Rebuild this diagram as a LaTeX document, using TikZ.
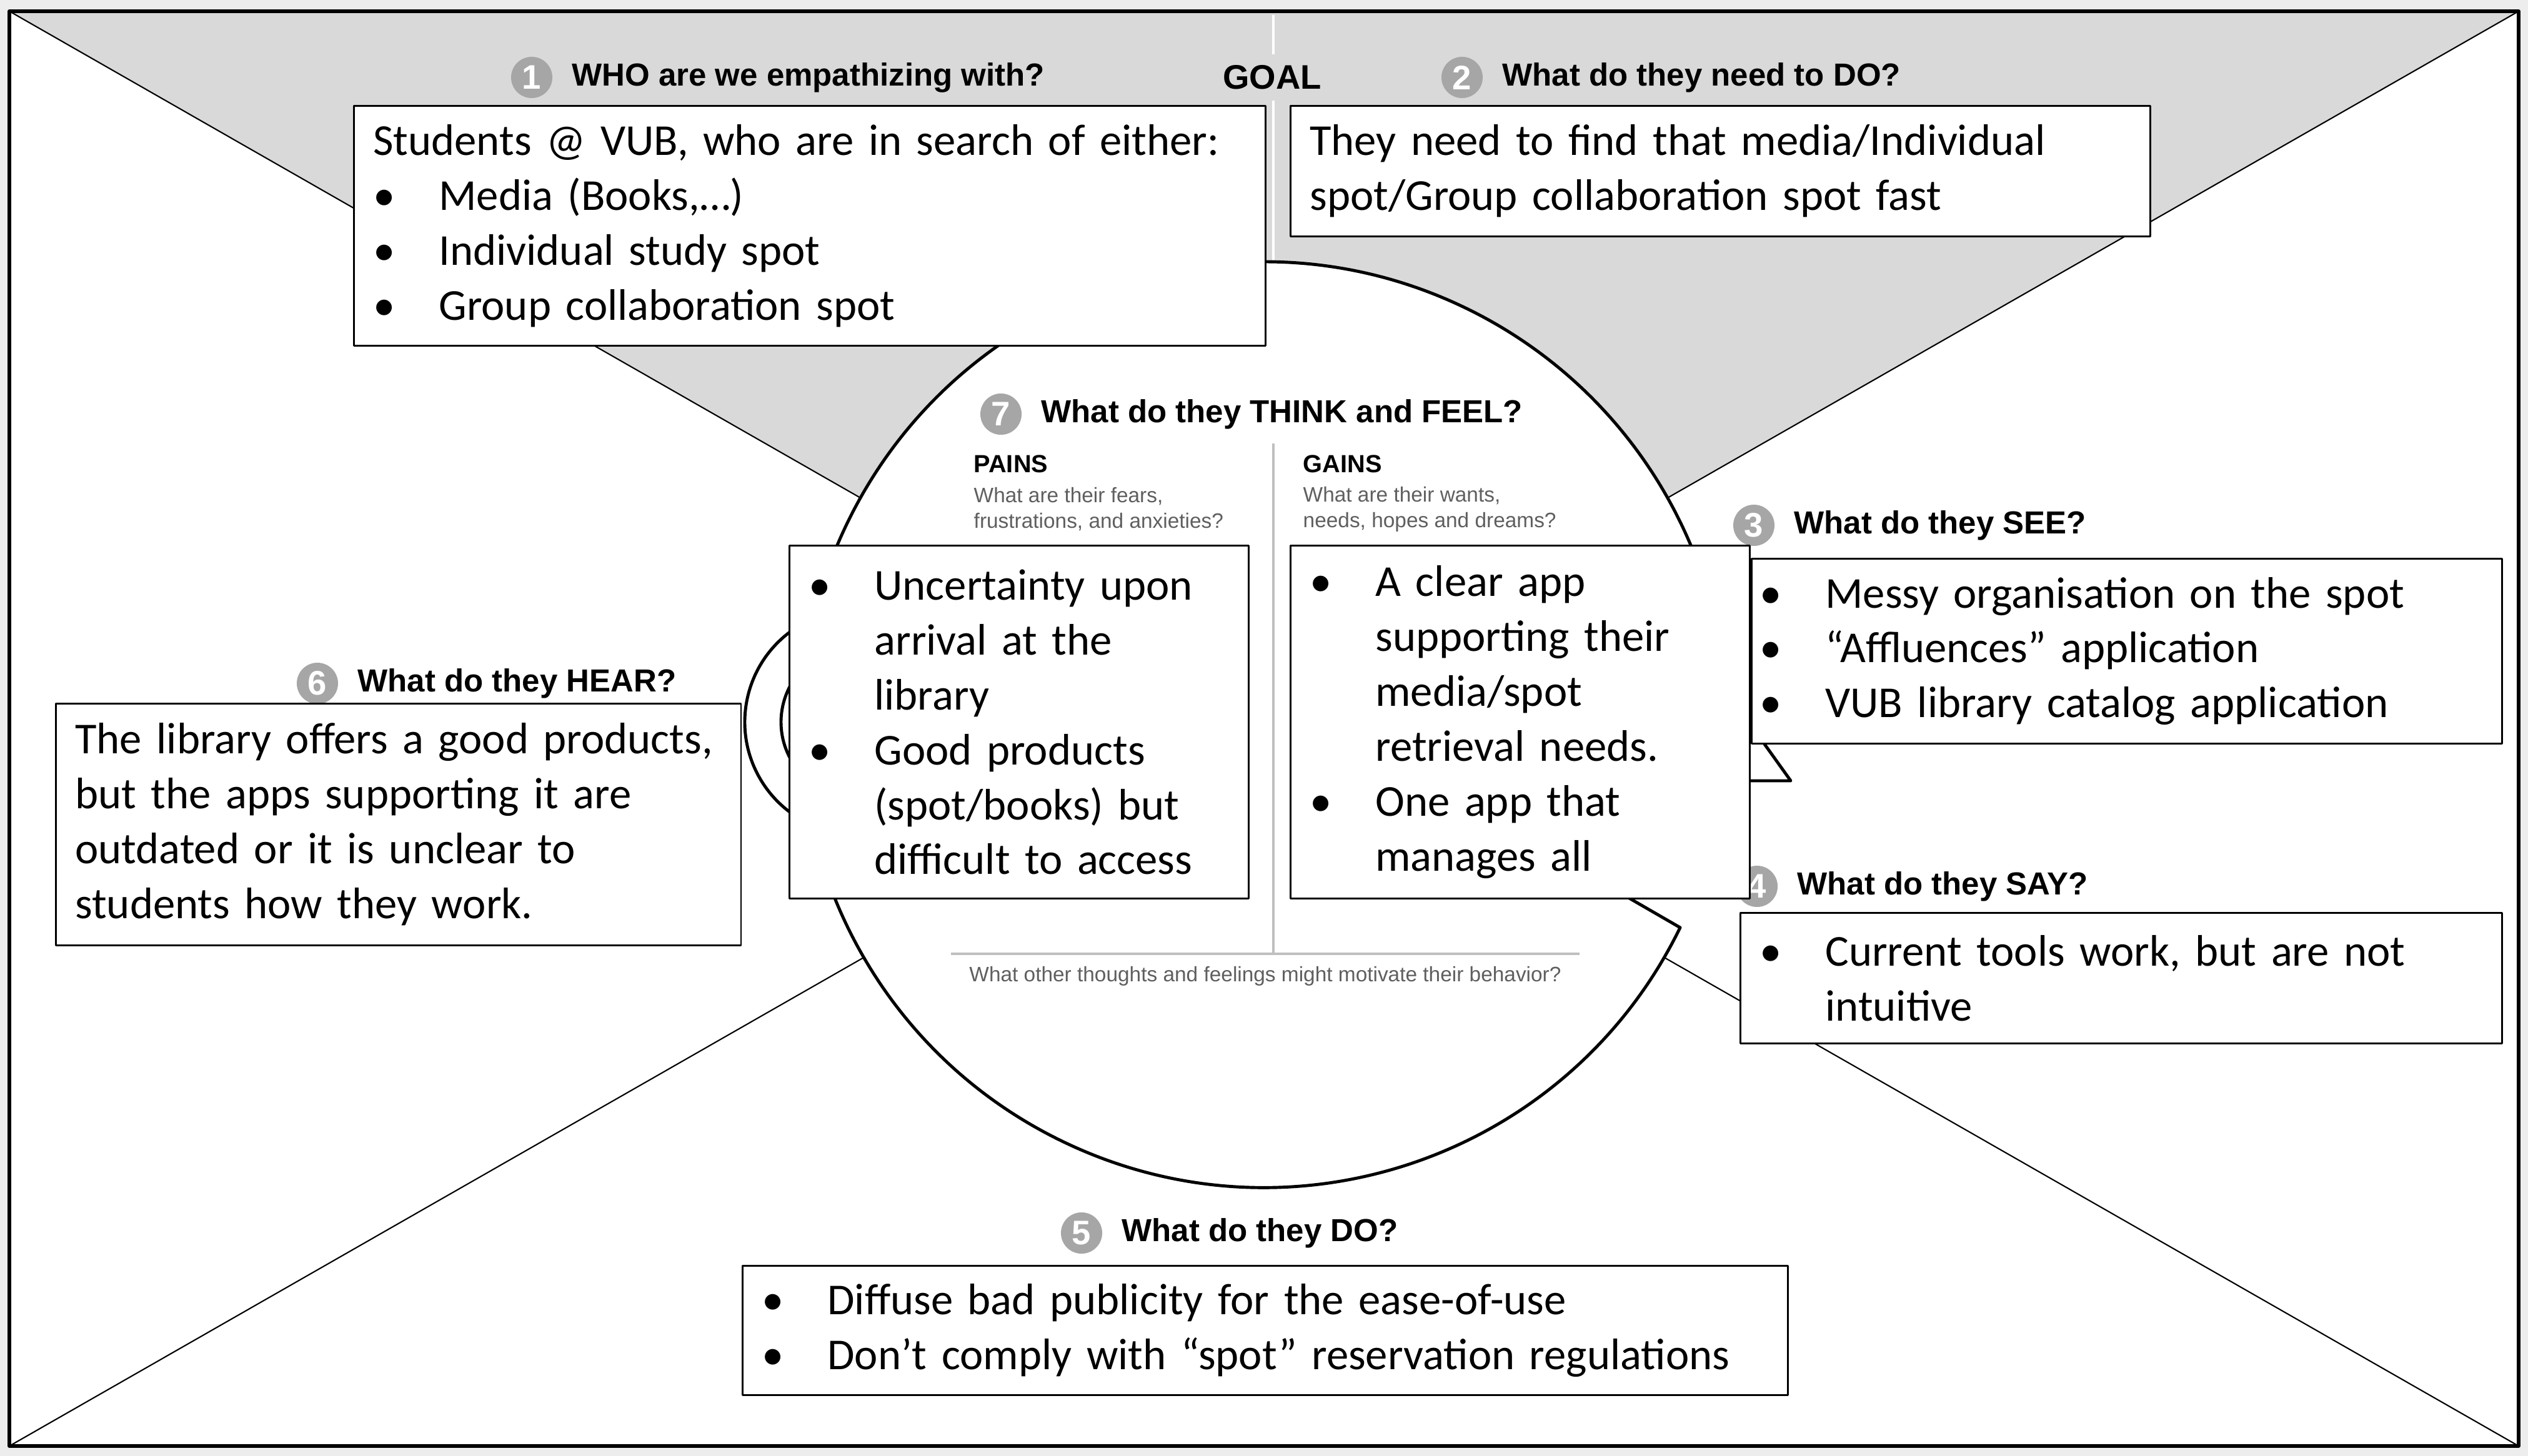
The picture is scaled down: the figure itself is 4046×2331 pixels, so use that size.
\documentclass[tikz,border=0pt]{standalone}
\usepackage{fontspec}
\setmainfont{Carlito}
\newfontfamily\headfont{Liberation Sans}
\usetikzlibrary{positioning}

\definecolor{goalgray}{HTML}{D9D9D9}
\definecolor{numgray}{HTML}{A6A6A6}
\definecolor{divgray}{HTML}{BFBFBF}
\definecolor{subgray}{HTML}{5F5F5F}
\definecolor{outergray}{HTML}{EDEDED}

% bullet column of the answer boxes
\newcommand{\bul}{\makebox[1.05cm][l]{\textbullet}}
\newcommand{\cont}{\hspace*{1.05cm}}
\hyphenpenalty=10000
\exhyphenpenalty=10000

\begin{document}
\begin{tikzpicture}[x=0.01cm, y=-0.01cm, line join=round]
  % styles
  \tikzset{
    canvasframe/.style={line width=1.5pt},
    guide/.style={line width=0.6pt},
    headline/.style={line width=1.4pt},
    divider/.style={divgray, line width=0.9pt},
    numdot/.style={circle, fill=numgray, text=white, minimum size=0.66cm,
      inner sep=0pt, font=\headfont\bfseries\fontsize{15.5}{15.5}\selectfont},
    quest/.style={inner sep=0pt, font=\headfont\bfseries\fontsize{14.5}{17}\selectfont},
    subq/.style={inner sep=0pt, align=left, text=subgray,
      font=\headfont\fontsize{9.5}{11.6}\selectfont},
    answer/.style={draw, line width=0.8pt, fill=white, anchor=north west,
      align=left, inner xsep=0.31cm, inner ysep=0pt, text width=#1,
      font=\fontsize{20.1}{25}\selectfont}
  }

  % ----- head parameters (pixels of the canvas) -----
  \def\hx{2023}
  \def\hy{1160}
  \def\hr{741}

  \useasboundingbox (0,0) rectangle (4046,2331);

  % ----- canvas -----
  \fill[outergray] (0,0) rectangle (4046,2331);
  \fill[white] (15,18) rectangle (4031,2315);
  \fill[goalgray] (15,18) -- (4031,18) -- (2023,1166) -- cycle;
  \draw[guide] (15,18) -- (4031,2315);
  \draw[guide] (4031,18) -- (15,2315);
  \draw[white, line width=1.2pt] (2038,24) -- (2038,430);

  % ----- head, nose, chin and ear -----
  \draw[headline, fill=white] (\hx,\hy) ++(-4.3:\hr) -- (2866,1250) -- (2758,1250)
    -- (2580,1422) -- (2689,1485) arc[start angle=26, end angle=355.7, radius=\hr] -- cycle;
  \draw[headline] (1372,1156) ++(60:180) arc[start angle=60, end angle=300, radius=180];
  \draw[headline] (1372,1156) ++(60:122) arc[start angle=60, end angle=300, radius=122];

  % think and feel area
  \draw[divider] (2038,710) -- (2038,1527);
  \draw[divider] (1522,1527) -- (2528,1527);
  \node[quest, anchor=west, font=\headfont\bfseries\fontsize{11.3}{13}\selectfont] (pains) at (1558,743) {PAINS};
  \node[subq, anchor=west] (painsq) at (1558,815) {What are their fears,\\frustrations, and anxieties?};
  \node[quest, anchor=west, font=\headfont\bfseries\fontsize{11.3}{13}\selectfont] (gains) at (2085,743) {GAINS};
  \node[subq, anchor=west] (gainsq) at (2085,815) {What are their wants,\\needs, hopes and dreams?};
  \node[subq] (motiv) at (2025,1563) {What other thoughts and feelings might motivate their behavior?};

  \draw[canvasframe] (15,18) rectangle (4031,2315);

  % ----- questions -----
  \node[quest, fill=goalgray, inner sep=5pt, font=\headfont\bfseries\fontsize{15.5}{17}\selectfont] (goal) at (2036,124) {GOAL};
  \node[numdot] (n1) at (851,124) {1};
  \node[quest, right=0.3cm of n1] (q1) {WHO are we empathizing with?};
  \node[numdot] (n2) at (2340,124) {2};
  \node[quest, right=0.3cm of n2] (q2) {What do they need to DO?};
  \node[numdot] (n7) at (1602,663) {7};
  \node[quest, right=0.3cm of n7] (q7) {What do they THINK and FEEL?};
  \node[numdot] (n3) at (2807,841) {3};
  \node[quest, right=0.3cm of n3] (q3) {What do they SEE?};
  \node[numdot] (n4) at (2812,1419) {4};
  \node[quest, right=0.3cm of n4] (q4) {What do they SAY?};
  \node[numdot] (n6) at (508,1094) {6};
  \node[quest, right=0.3cm of n6] (q6) {What do they HEAR?};
  \node[numdot] (n5) at (1731,1974) {5};
  \node[quest, right=0.3cm of n5] (q5) {What do they DO?};

  % ----- answers -----
  \node[answer=13.96cm, minimum height=3.84cm] (who) at (565,168)
    {Students @ VUB, who are in search of either:\\
     \bul Media (Books,…)\\
     \bul Individual study spot\\
     \bul Group collaboration spot};
  \node[answer=13.13cm, minimum height=2.09cm] (need) at (2064,168)
    {They need to find that media/Individual\\
     spot/Group collaboration spot fast};
  \node[answer=6.73cm, minimum height=5.65cm] (painbox) at (1262,872)
    {\bul Uncertainty upon\\
     \cont arrival at the\\
     \cont library\\
     \bul Good products\\
     \cont (spot/books) but\\
     \cont difficult to access};
  \node[answer=6.73cm, minimum height=5.65cm] (gainbox) at (2064,872)
    {\bul A clear app\\
     \cont supporting their\\
     \cont media/spot\\
     \cont retrieval needs.\\
     \bul One app that\\
     \cont manages all};
  \node[answer=11.74cm, inner xsep=0.13cm, minimum height=2.96cm] (see) at (2802,893)
    {\bul Messy organisation on the spot\\
     \bul “Affluences” application\\
     \bul VUB library catalog application};
  \node[answer=11.56cm, minimum height=2.09cm] (say) at (2784,1460)
    {\bul Current tools work, but are not\\
     \cont intuitive};
  \node[answer=10.34cm, minimum height=3.87cm] (hear) at (88,1125)
    {The library offers a good products,\\
     but the apps supporting it are\\
     outdated or it is unclear to\\
     students how they work.};
  \node[answer=16.10cm, minimum height=2.07cm] (do) at (1187,2025)
    {\bul Diffuse bad publicity for the ease-of-use\\
     \bul Don’t comply with “spot” reservation regulations};
\end{tikzpicture}
\end{document}
